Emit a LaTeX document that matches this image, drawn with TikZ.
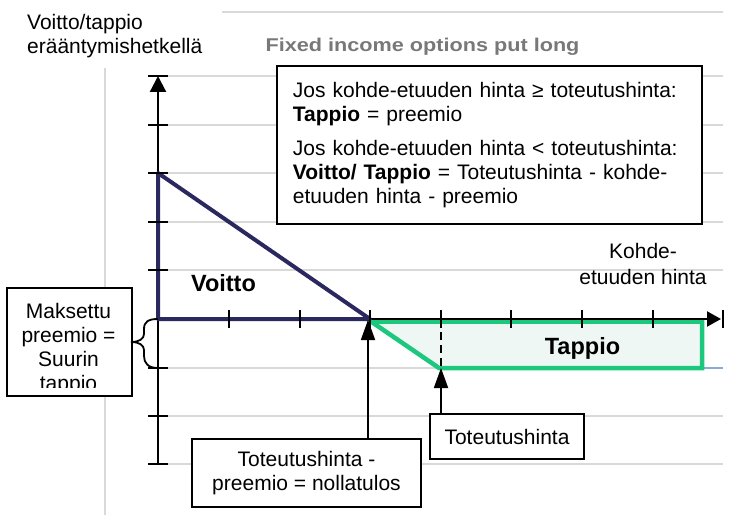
\documentclass[tikz,border=0pt]{standalone}
\usepackage{fontspec}
\setmainfont{Liberation Sans}
\newfontfamily\titlefont{Liberation Sans}[FakeStretch=1.17]
\usetikzlibrary{arrows.meta}
\definecolor{navy}{RGB}{43,40,95}
\definecolor{grn}{RGB}{28,200,125}
\definecolor{grnfill}{RGB}{238,247,243}
\definecolor{gridc}{RGB}{217,217,217}
\definecolor{ttl}{RGB}{120,120,120}
\definecolor{lblue}{RGB}{140,170,215}
\begin{document}
\begin{tikzpicture}[x=1bp,y=-1bp,
  gridline/.style={draw=gridc, line width=1.5bp},
  axisline/.style={draw=black, line width=2.2bp},
  tickmark/.style={draw=black, line width=2.2bp},
  framebox/.style={draw=black, fill=white, line width=1.8bp},
  txt/.style={font=\fontsize{21bp}{24bp}\selectfont},
  big/.style={font=\fontsize{23.5bp}{27bp}\selectfont\bfseries},
  ptr/.style={draw=black, line width=1.8bp, -{Triangle[length=20bp,width=14bp]}},
]
\useasboundingbox (0,0) rectangle (733,515);
% grid
\foreach \y in {76,125,173,222,270,368,416,464} \draw[gridline] (158,\y) -- (723,\y);
\draw[gridline] (222,12) -- (723,12);
\draw[gridline] (105,68) -- (105,515);
\draw[lblue, line width=1.2bp] (702,368) -- (723,368);
% info box
\node[framebox, txt, anchor=north west, minimum width=425bp, minimum height=158bp,
      text width=393bp, inner xsep=16bp, inner ysep=0pt, align=left] (info) at (276,65)
 {Jos kohde-etuuden hinta ≥ toteutushinta:\\
  \textbf{Tappio} = preemio\\[10bp]
  Jos kohde-etuuden hinta < toteutushinta:\\
  \textbf{Voitto/ Tappio} = Toteutushinta - kohde-\\
  etuuden hinta - preemio};
% loss area
\draw[grn, fill=grnfill, line width=4.5bp, line join=miter] (371,321.5) -- (439,368) -- (702,368) -- (702,321.5) -- cycle;
% axes
\draw[axisline, -{Triangle[length=16bp,width=16bp]}] (158,464) -- (158,76);
\draw[axisline, -{Triangle[length=14bp,width=15bp]}] (158,319) -- (721,319);
% profit triangle
\draw[navy, line width=4bp, line join=round] (158,319) -- (158,173) -- (370,319) -- cycle;
% ticks
\foreach \y in {76,125,173,222,270,368,416,464} \draw[tickmark] (148,\y) -- (168,\y);
\foreach \x in {229,300,370,441,511,582,653,723} \draw[tickmark] (\x,310) -- (\x,328);
\draw[black, line width=2.5bp, dash pattern=on 8bp off 5bp] (441,319) -- (441,368);
\coordinate (zero) at (368,320);
\coordinate (strike) at (441,368);
% boxes with pointers
\node[framebox, txt, minimum width=154bp, minimum height=45bp, inner sep=0pt] (toteutus) at (507,436.5) {Toteutushinta};
\node[framebox, txt, minimum width=229bp, minimum height=68bp, inner sep=0pt, align=center] (nolla) at (306.5,473) {Toteutushinta -\\preemio = nollatulos};
\draw[ptr] (toteutus.north -| strike) -- (strike);
\draw[ptr] (nolla.north -| zero) -- (zero);
% premium box
\node[framebox, minimum width=125bp, minimum height=108bp, anchor=north west, inner sep=0pt] (mak) at (6,287) {};
\begin{scope}
\clip (7,288) rectangle (130,387);
\node[txt, align=center, anchor=north, inner sep=0pt] (maktext) at (68.5,303) {Maksettu\\preemio =\\Suurin\\tappio};
\end{scope}
\draw[black, line width=1.8bp] (158,319) .. controls (148,319) and (144,322) .. (144,329) -- (144,334)
  .. controls (144,339) and (139,342) .. (131,342) .. controls (139,342) and (144,345) .. (144,350)
  -- (144,356) .. controls (144,363) and (148,368) .. (158,368);
% labels
\node[big, anchor=base] (voitto) at (223.5,291.7) {Voitto};
\node[big, anchor=base] (tappio) at (582.5,354) {Tappio};
\node[font=\fontsize{21bp}{26bp}\selectfont, align=center, anchor=north, inner sep=0pt] (kohde) at (643,243) {Kohde-\\etuuden hinta};
\node[txt, align=left, anchor=north west, inner sep=0pt] (ylab) at (27,14) {Voitto/tappio\\erääntymishetkellä};
\node[anchor=base, text=ttl, font=\titlefont\fontsize{18.5bp}{22bp}\selectfont\bfseries] (title) at (422.5,51.7) {Fixed income options put long};
\end{tikzpicture}
\end{document}
